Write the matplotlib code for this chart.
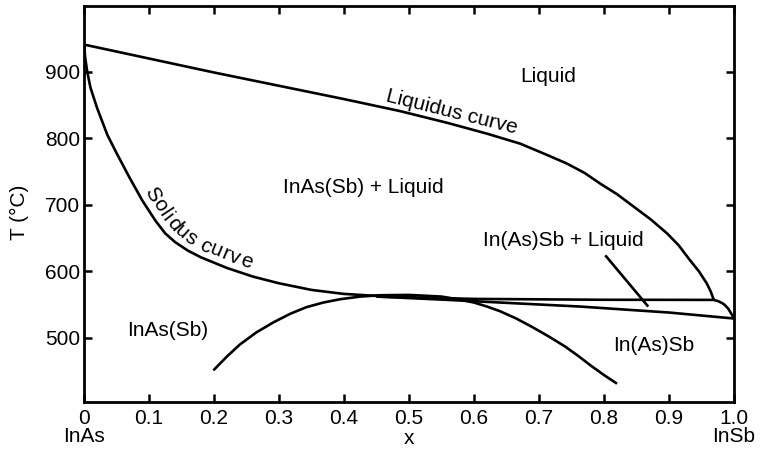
import matplotlib
matplotlib.use('Agg')
import matplotlib.pyplot as plt
import numpy as np
from matplotlib.font_manager import FontProperties

plt.rcParams['font.family'] = ['Liberation Sans', 'DejaVu Sans']

# curves (x, T in degC)
liq_x = [0.0, 0.1, 0.2, 0.3, 0.4, 0.486, 0.56, 0.62, 0.671, 0.71, 0.743, 0.77, 0.794,
         0.82, 0.846, 0.872, 0.897, 0.915, 0.932, 0.946, 0.958, 0.964, 0.969]
liq_t = [941, 920, 899, 879, 859, 841, 823, 807, 792, 776, 762, 748, 732,
         716, 697, 678, 657, 639, 617, 600, 582, 570, 557]

liq_end_x = [0.969, 0.976, 0.984, 0.991, 0.996, 1.0]
liq_end_t = [557, 555, 551, 544, 536, 529]

sol_x = [0.0, 0.002, 0.005, 0.01, 0.02, 0.036, 0.05, 0.07, 0.09, 0.11, 0.125, 0.14,
         0.16, 0.18, 0.22, 0.26, 0.30, 0.35, 0.40, 0.45, 0.51]
sol_t = [941, 920, 900, 876, 846, 805, 778, 741, 706, 676, 657, 644,
         631, 621, 605, 592, 582, 572, 566, 563, 562]

upper_x = [0.45, 0.6, 0.8, 0.969]
upper_t = [562, 558.5, 557.2, 557]

lower_x = [0.45, 0.56, 0.763, 0.9, 1.0]
lower_t = [562, 557, 547, 538, 529]

dome_x = [0.199, 0.22, 0.24, 0.265, 0.291, 0.317, 0.342, 0.368, 0.394, 0.425, 0.455, 0.5,
          0.55, 0.575, 0.60, 0.62, 0.64, 0.665, 0.69, 0.715, 0.74, 0.76, 0.78, 0.80, 0.82]
dome_t = [451, 472, 490, 508, 523, 536, 546, 553, 558, 562, 564, 564.5,
          562, 558, 553, 547, 540, 529, 516, 502, 487, 473, 458, 444, 431]

pointer_x = [0.802, 0.868]
pointer_t = [624, 547]

xticks = [0, 0.1, 0.2, 0.3, 0.4, 0.5, 0.6, 0.7, 0.8, 0.9, 1.0]
xtick_labels = ['0\nInAs', '0.1', '0.2', '0.3', '0.4', '0.5', '0.6', '0.7', '0.8', '0.9', '1.0\nInSb']
yticks = [500, 600, 700, 800, 900]

fs = 15

fig = plt.figure(figsize=(7.61, 4.51), dpi=100)
ax = fig.add_axes([84 / 761, 1 - 402.3 / 451, 650 / 761, 396.3 / 451])

lw = 1.9
for xs, ts in [(liq_x, liq_t), (liq_end_x, liq_end_t), (sol_x, sol_t),
               (upper_x, upper_t), (lower_x, lower_t), (dome_x, dome_t),
               (pointer_x, pointer_t)]:
    ax.plot(xs, ts, color='black', lw=lw, solid_capstyle='butt', solid_joinstyle='round')

ax.set_xlim(0, 1.0)
ax.set_ylim(403, 999)

ax.set_xticks(xticks)
ax.set_xticklabels(xtick_labels, linespacing=0.95)
ax.set_yticks(yticks)
ax.tick_params(direction='in', length=6, width=1.8, labelsize=fs,
               top=True, right=True)
ax.tick_params(axis='x', pad=5)
ax.tick_params(axis='y', pad=3)
for s in ax.spines.values():
    s.set_linewidth(2)

ax.set_xlabel('x', fontsize=fs)
ax.xaxis.set_label_coords(0.5, -0.068)
ax.set_ylabel('T (°C)', fontsize=fs)
ax.yaxis.set_label_coords(-0.085, 0.48)

ax.text(0.714, 893, 'Liquid', fontsize=fs, ha='center', va='center')
ax.text(0.566, 840, 'Liquidus curve', fontsize=fs, ha='center', va='center', rotation=-14)
ax.text(0.429, 726, 'InAs(Sb) + Liquid', fontsize=fs, ha='center', va='center')
ax.text(0.737, 647, 'In(As)Sb + Liquid', fontsize=fs, ha='center', va='center')
ax.text(0.129, 511, 'InAs(Sb)', fontsize=fs, ha='center', va='center')
ax.text(0.877, 489, 'In(As)Sb', fontsize=fs, ha='center', va='center')

# "Solidus curve" set letter by letter along the solidus line
label = 'Solidus curve'
start_x = 0.084
offset = 6.5
tracking = 1.3
pts = ax.transData.transform(np.column_stack([sol_x, sol_t]))
d = np.diff(pts, axis=0)
seg = np.hypot(d[:, 0], d[:, 1])
arc = np.concatenate([[0], np.cumsum(seg)])
s0 = np.interp(start_x, sol_x, arc)

renderer = fig.canvas.get_renderer()
fp = FontProperties(family=['Liberation Sans', 'DejaVu Sans'], size=fs)
pos = s0
inv = ax.transData.inverted()
for ch in label:
    if ch == ' ':
        w = 0.278 * fs * fig.dpi / 72
    else:
        w = renderer.get_text_width_height_descent(ch, fp, ismath=False)[0]
    sc = pos + w / 2
    i = min(np.searchsorted(arc, sc) - 1, len(seg) - 1)
    i = max(i, 0)
    f = (sc - arc[i]) / seg[i]
    p = pts[i] + f * d[i]
    tx, ty = d[i] / seg[i]
    n = np.array([-ty, tx])
    p = p + offset * n
    ang = np.degrees(np.arctan2(ty, tx))
    if ch != ' ':
        dx, dy = inv.transform(p)
        ax.text(dx, dy, ch, fontproperties=fp, ha='center', va='baseline',
                rotation=ang, rotation_mode='anchor')
    pos += w + tracking

fig.savefig('out.png', dpi=100)
